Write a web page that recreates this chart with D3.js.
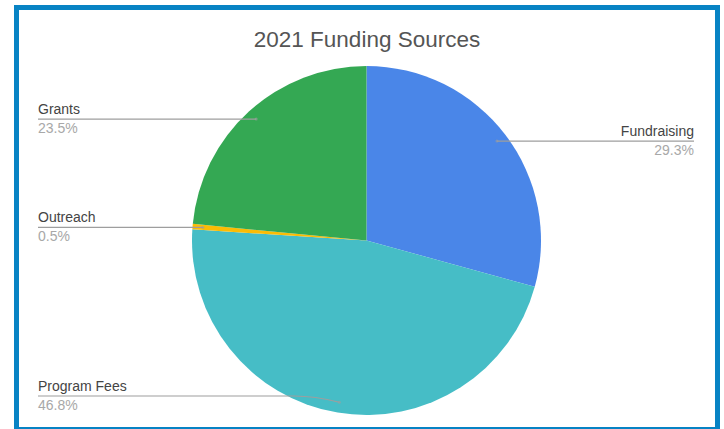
<!DOCTYPE html>
<html>
<head>
<meta charset="utf-8">
<script src="https://cdn.jsdelivr.net/npm/d3@7"></script>
<style>
  body { margin: 0; background: #fff; }
  text { font-family: "Liberation Sans", Arial, sans-serif; }
</style>
</head>
<body>
<svg id="chart"></svg>
<script>
const width = 724, height = 429;

// chart data
const categories = ["Fundraising", "Program Fees", "Outreach", "Grants"];
const values = [29.3, 46.8, 0.5, 23.5];
const percentLabels = ["29.3%", "46.8%", "0.5%", "23.5%"];
const colors = ["#4a86e8", "#46bdc6", "#fbbc04", "#34a853"];

const svg = d3.select("#chart")
    .attr("width", width)
    .attr("height", height);

// blue frame
svg.append("rect")
    .attr("x", 16.5).attr("y", 7.5)
    .attr("width", 701).attr("height", 422)
    .attr("fill", "#fff")
    .attr("stroke", "#0783c4")
    .attr("stroke-width", 5);

svg.append("text")
    .attr("x", 367).attr("y", 47)
    .attr("text-anchor", "middle")
    .attr("font-size", 22.5)
    .attr("fill", "#555")
    .text("2021 Funding Sources");

const cx = 366.5, cy = 240.5, r = 174.5;

const pie = d3.pie().sort(null).value(d => d);
const arcs = pie(values);
const arc = d3.arc().innerRadius(0).outerRadius(r);

const g = svg.append("g").attr("transform", `translate(${cx},${cy})`);

g.selectAll("path")
    .data(arcs)
    .join("path")
    .attr("d", arc)
    .attr("fill", (d, i) => colors[i]);

// leader lines and labels
const inner = d3.arc().innerRadius(r * 0.94).outerRadius(r * 0.94);
const maxLineY = 396;

arcs.forEach((d, i) => {
    const [px, py] = inner.centroid(d);
    const ax = cx + px, ay = cy + py;
    const mid = (d.startAngle + d.endAngle) / 2;
    const right = Math.sin(mid) > 0;
    const ly = Math.min(ay, maxLineY);
    const lx = right ? 694 : 38;

    let pathD;
    if (ly === ay) {
        pathD = `M${lx},${ly}L${ax},${ay}`;
    } else {
        const bend = ax - 45;
        pathD = `M${lx},${ly}L${bend},${ly}Q${bend + 20},${ly} ${ax},${ay}`;
    }
    svg.append("path")
        .attr("d", pathD)
        .attr("fill", "none")
        .attr("stroke", "#9e9e9e")
        .attr("stroke-width", 1.2);
    svg.append("circle")
        .attr("cx", ax).attr("cy", ay).attr("r", 1.5)
        .attr("fill", "#9e9e9e")
        .attr("opacity", 0.6);

    svg.append("text")
        .attr("x", lx).attr("y", ly - 5)
        .attr("text-anchor", right ? "end" : "start")
        .attr("font-size", 14)
        .attr("fill", "#444")
        .text(categories[i]);
    svg.append("text")
        .attr("x", lx).attr("y", ly + 14)
        .attr("text-anchor", right ? "end" : "start")
        .attr("font-size", 14)
        .attr("fill", "#a8a8a8")
        .text(percentLabels[i]);
});
</script>
</body>
</html>
